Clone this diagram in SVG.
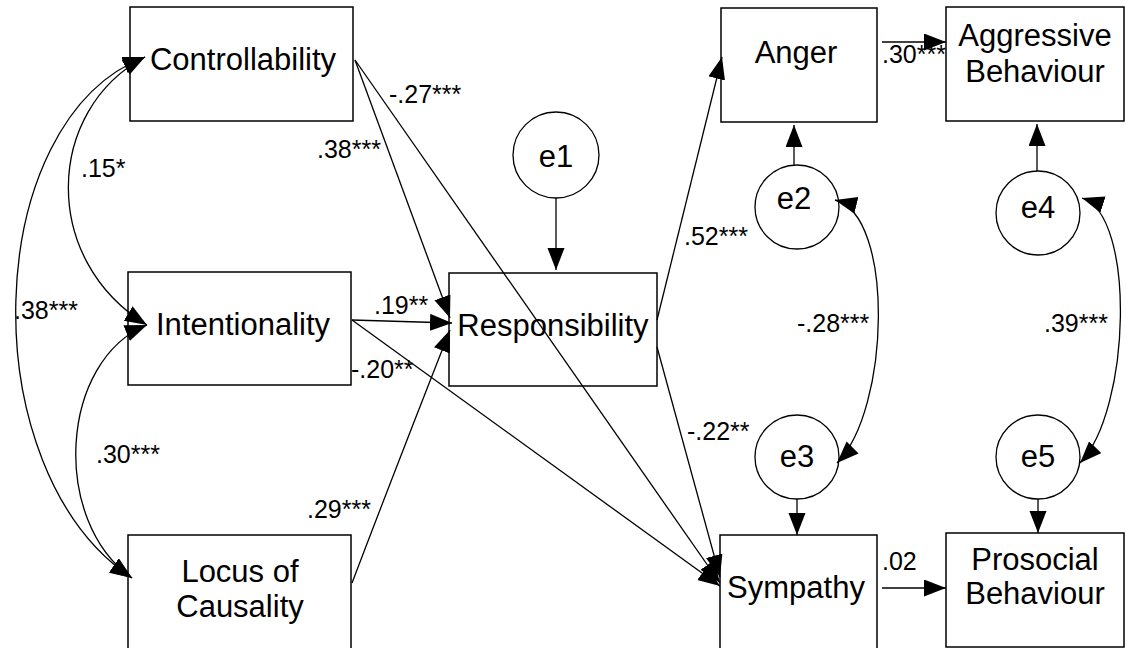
<svg xmlns="http://www.w3.org/2000/svg" width="1126" height="648" viewBox="0 0 1126 648">
<style>
.box{fill:#fff;stroke:#000;stroke-width:1.5}
.circ{fill:#fff;stroke:#000;stroke-width:1.3}
.nt{font-family:"Liberation Sans",Arial,sans-serif;font-size:31px;fill:#000;text-anchor:middle}
.lb{font-family:"Liberation Sans",Arial,sans-serif;font-size:25px;fill:#000}
.c{fill:none;stroke:#000;stroke-width:1.3;marker-end:url(#ah)}
.d{fill:none;stroke:#000;stroke-width:1.3;marker-start:url(#ah);marker-end:url(#ah)}
</style>
<defs>
<marker id="ah" markerUnits="userSpaceOnUse" markerWidth="23" markerHeight="18" refX="22" refY="8.5" orient="auto-start-reverse" viewBox="0 0 23 18">
<path d="M0,0 L22,8.5 L0,17 z" fill="#000"/>
</marker>
</defs>
<rect width="1126" height="648" fill="#fff"/>
<g id="controllability"><rect class="box" x="130" y="7" width="223" height="114"/><text class="nt" x="243" y="70">Controllability</text></g>
<g id="intentionality"><rect class="box" x="128" y="272" width="223" height="113"/><text class="nt" x="243" y="335">Intentionality</text></g>
<g id="locus"><rect class="box" x="128" y="535" width="223" height="120"/><text class="nt" x="240" y="582">Locus of</text><text class="nt" x="240" y="617">Causality</text></g>
<g id="responsibility"><rect class="box" x="449" y="273" width="208" height="113"/><text class="nt" x="553" y="336">Responsibility</text></g>
<g id="anger"><rect class="box" x="721" y="8" width="156" height="114"/><text class="nt" x="796" y="63">Anger</text></g>
<g id="aggressive"><rect class="box" x="946" y="7" width="178" height="114"/><text class="nt" x="1035" y="46">Aggressive</text><text class="nt" x="1035" y="82">Behaviour</text></g>
<g id="sympathy"><rect class="box" x="720" y="535" width="157" height="120"/><text class="nt" x="796" y="598">Sympathy</text></g>
<g id="prosocial"><rect class="box" x="946" y="533" width="178" height="114"/><text class="nt" x="1035" y="570">Prosocial</text><text class="nt" x="1035" y="604">Behaviour</text></g>
<g id="e1"><circle class="circ" cx="556" cy="155" r="43"/><text class="nt" x="556" y="167">e1</text></g>
<g id="e2"><circle class="circ" cx="797" cy="207" r="42"/><text class="nt" x="794" y="209">e2</text></g>
<g id="e3"><circle class="circ" cx="797" cy="457" r="42"/><text class="nt" x="797" y="467">e3</text></g>
<g id="e4"><circle class="circ" cx="1038" cy="213" r="42"/><text class="nt" x="1038" y="218">e4</text></g>
<g id="e5"><circle class="circ" cx="1038" cy="457" r="42"/><text class="nt" x="1038" y="467">e5</text></g>
<g id="connectors">
<path class="c" d="M355,60 L450,318"/>
<path class="c" d="M355,60 L720,583"/>
<path class="c" d="M352,320 L452,323"/>
<path class="c" d="M352,320 L720,586"/>
<path class="c" d="M352,583 Q395,470 450,330"/>
<path class="c" d="M657,320 L722,57"/>
<path class="c" d="M657,347 L720,577"/>
<path class="c" d="M882,42 L946,42"/>
<path class="c" d="M882,588 L946,588"/>
<path class="c" d="M556,198 L556,270"/>
<path class="c" d="M794,165 L794,125"/>
<path class="c" d="M1037,171 L1037,124"/>
<path class="c" d="M797,499 L797,535"/>
<path class="c" d="M1038,499 L1038,533"/>
<path class="d" d="M145,57 C45,110 40,260 147,325"/>
<path class="d" d="M145,57 C-20,120 -30,470 132,578"/>
<path class="d" d="M147,325 C60,360 50,520 132,578"/>
<path class="d" d="M835,200 C895,215 890,410 837,463"/>
<path class="d" d="M1082,198 C1136,215 1131,410 1080,463"/>
</g>
<g id="labels">
<text class="lb" x="389" y="103">-.27***</text>
<text class="lb" x="317" y="158">.38***</text>
<text class="lb" x="81" y="177">.15*</text>
<text class="lb" x="14" y="319">.38***</text>
<text class="lb" x="374" y="314">.19**</text>
<text class="lb" x="351" y="378">-.20**</text>
<text class="lb" x="96" y="463">.30***</text>
<text class="lb" x="307" y="518">.29***</text>
<text class="lb" x="684" y="245">.52***</text>
<text class="lb" x="687" y="440">-.22**</text>
<text class="lb" x="797" y="332">-.28***</text>
<text class="lb" x="1044" y="332">.39***</text>
<text class="lb" x="882" y="63">.30***</text>
<text class="lb" x="882" y="570">.02</text>
</g>
</svg>
